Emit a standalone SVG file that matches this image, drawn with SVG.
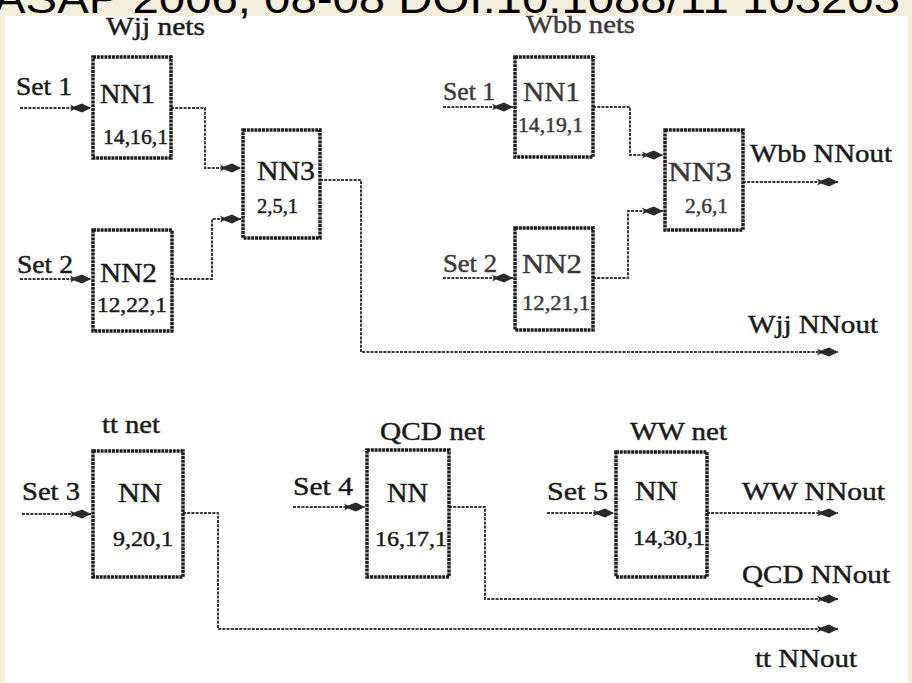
<svg xmlns="http://www.w3.org/2000/svg" width="912" height="683" viewBox="0 0 912 683">
<style>
.bg{fill:#f4efdc}
.paper{fill:#ffffff}
.box{fill:#ffffff;stroke:#1e1e1e;stroke-width:3.5;stroke-dasharray:3 0.8}
.ln{fill:none;stroke:#3a3a3a;stroke-width:2;stroke-dasharray:3 1.2;marker-end:url(#ah)}
.t{font-family:"Liberation Serif","Times New Roman",serif;fill:#1a1a1a;stroke:#1a1a1a;stroke-width:0.45}
.g{fill:#3a3a3a;stroke:#3a3a3a}
.big{font-size:28px}
.num{font-size:20px}
.lbl{font-size:26px}
.hdr{font-family:"Liberation Sans",Arial,sans-serif;font-size:42px;fill:#000000}
</style>
<defs>
<marker id="ah" markerUnits="userSpaceOnUse" markerWidth="24" markerHeight="12" viewBox="-22 -6 24 12" refX="0" refY="0" orient="auto">
<path d="M0,0 L-9,-4.5 L-17,-1.5 L-21,-3.5 L-19,0 L-21,3.5 L-17,1.5 L-9,4.5 Z" fill="#2a2a2a"/>
</marker>
</defs>
<rect class="bg" x="0" y="0" width="912" height="683"/>
<rect class="paper" x="5" y="16" width="903" height="667"/>

<g id="group-labels">
<text class="t lbl" x="106" y="35" textLength="99" lengthAdjust="spacingAndGlyphs">Wjj nets</text>
<text class="t lbl g" x="526" y="33" textLength="109" lengthAdjust="spacingAndGlyphs">Wbb nets</text>
<text class="t lbl" x="102" y="433" textLength="58" lengthAdjust="spacingAndGlyphs">tt net</text>
<text class="t lbl" x="380" y="440" textLength="105" lengthAdjust="spacingAndGlyphs">QCD net</text>
<text class="t lbl" x="630" y="440" textLength="97" lengthAdjust="spacingAndGlyphs">WW net</text>
</g>

<g id="inputs">
<text class="t lbl" x="16" y="95" textLength="56" lengthAdjust="spacingAndGlyphs">Set 1</text>
<text class="t lbl" x="17" y="273" textLength="56" lengthAdjust="spacingAndGlyphs">Set 2</text>
<text class="t lbl g" x="443" y="100" textLength="52" lengthAdjust="spacingAndGlyphs">Set 1</text>
<text class="t lbl g" x="443" y="272" textLength="54" lengthAdjust="spacingAndGlyphs">Set 2</text>
<text class="t lbl" x="22" y="500" textLength="58" lengthAdjust="spacingAndGlyphs">Set 3</text>
<text class="t lbl" x="293" y="495" textLength="60" lengthAdjust="spacingAndGlyphs">Set 4</text>
<text class="t lbl" x="547" y="500" textLength="61" lengthAdjust="spacingAndGlyphs">Set 5</text>
</g>

<g id="outputs">
<text class="t lbl" x="750" y="162" textLength="142" lengthAdjust="spacingAndGlyphs">Wbb NNout</text>
<text class="t lbl" x="748" y="333" textLength="130" lengthAdjust="spacingAndGlyphs">Wjj NNout</text>
<text class="t lbl" x="742" y="500" textLength="143" lengthAdjust="spacingAndGlyphs">WW NNout</text>
<text class="t lbl" x="742" y="583" textLength="148" lengthAdjust="spacingAndGlyphs">QCD NNout</text>
<text class="t lbl" x="755" y="667" textLength="102" lengthAdjust="spacingAndGlyphs">tt NNout</text>
</g>

<g id="connectors">
<path class="ln" d="M20,108 H91"/>
<path class="ln" d="M171,108 H205 V168 H241"/>
<path class="ln" d="M20,279 H91"/>
<path class="ln" d="M172,279 H212 V219 H241"/>
<path class="ln" d="M320,180 H361 V352 H838"/>
<path class="ln" d="M443,107 H513"/>
<path class="ln" d="M593,107 H630 V155 H663"/>
<path class="ln" d="M443,278 H513"/>
<path class="ln" d="M593,278 H628 V211 H663"/>
<path class="ln" d="M743,182 H838"/>
<path class="ln" d="M22,514 H91"/>
<path class="ln" d="M183,513 H218 V629 H838"/>
<path class="ln" d="M293,507 H365"/>
<path class="ln" d="M449,507 H485 V599 H838"/>
<path class="ln" d="M547,513 H614"/>
<path class="ln" d="M707,513 H838"/>
</g>

<g id="wjj-nn1">
<rect class="box" x="93" y="57" width="78" height="101"/>
<text class="t big" x="100" y="103" textLength="55" lengthAdjust="spacingAndGlyphs">NN1</text>
<text class="t num" x="103" y="144" textLength="65" lengthAdjust="spacingAndGlyphs">14,16,1</text>
</g>
<g id="wjj-nn2">
<rect class="box" x="93" y="230" width="79" height="101"/>
<text class="t big" x="100" y="282" textLength="57" lengthAdjust="spacingAndGlyphs">NN2</text>
<text class="t num" x="97" y="312" textLength="70" lengthAdjust="spacingAndGlyphs">12,22,1</text>
</g>
<g id="wjj-nn3">
<rect class="box" x="243" y="130" width="77" height="108"/>
<text class="t big" x="257" y="180" textLength="58" lengthAdjust="spacingAndGlyphs">NN3</text>
<text class="t num" x="257" y="213" textLength="41" lengthAdjust="spacingAndGlyphs">2,5,1</text>
</g>
<g id="wbb-nn1">
<rect class="box" x="515" y="57" width="78" height="100"/>
<text class="t big g" x="523" y="101" textLength="57" lengthAdjust="spacingAndGlyphs">NN1</text>
<text class="t num g" x="518" y="132" textLength="65" lengthAdjust="spacingAndGlyphs">14,19,1</text>
</g>
<g id="wbb-nn2">
<rect class="box" x="515" y="228" width="78" height="102"/>
<text class="t big g" x="522" y="273" textLength="60" lengthAdjust="spacingAndGlyphs">NN2</text>
<text class="t num g" x="522" y="310" textLength="68" lengthAdjust="spacingAndGlyphs">12,21,1</text>
</g>
<g id="wbb-nn3">
<rect class="box" x="665" y="130" width="78" height="100"/>
<text class="t big g" x="668" y="181" textLength="64" lengthAdjust="spacingAndGlyphs">NN3</text>
<text class="t num g" x="685" y="213" textLength="43" lengthAdjust="spacingAndGlyphs">2,6,1</text>
</g>
<g id="tt-nn">
<rect class="box" x="93" y="451" width="90" height="126"/>
<text class="t big" x="118" y="502" textLength="44" lengthAdjust="spacingAndGlyphs">NN</text>
<text class="t num" x="113" y="546" textLength="60" lengthAdjust="spacingAndGlyphs">9,20,1</text>
</g>
<g id="qcd-nn">
<rect class="box" x="367" y="450" width="82" height="127"/>
<text class="t big" x="387" y="502" textLength="41" lengthAdjust="spacingAndGlyphs">NN</text>
<text class="t num" x="375" y="546" textLength="72" lengthAdjust="spacingAndGlyphs">16,17,1</text>
</g>
<g id="ww-nn">
<rect class="box" x="616" y="452" width="91" height="125"/>
<text class="t big" x="635" y="500" textLength="43" lengthAdjust="spacingAndGlyphs">NN</text>
<text class="t num" x="633" y="545" textLength="72" lengthAdjust="spacingAndGlyphs">14,30,1</text>
</g>

<text class="hdr" x="-6" y="13" textLength="906" lengthAdjust="spacingAndGlyphs">ASAP 2006, 08-08 DOI:10.1088/11 103203</text>
</svg>
